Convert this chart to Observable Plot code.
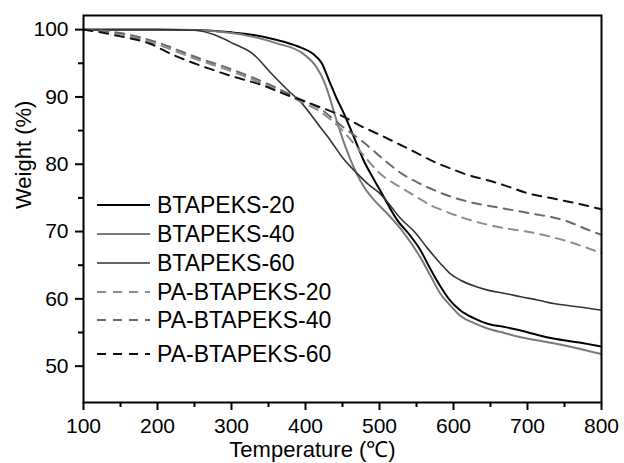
<!DOCTYPE html>
<html><head><meta charset="utf-8">
<script src="https://cdn.jsdelivr.net/npm/d3@7"></script>
<script src="https://cdn.jsdelivr.net/npm/@observablehq/plot@0.6"></script>
<style>
body{margin:0;background:#fff}
#chart{position:relative;width:624px;height:463px}
</style>
</head><body><div id="chart"></div>
<script>
const seriesNames = ["BTAPEKS-20","BTAPEKS-40","BTAPEKS-60","PA-BTAPEKS-20","PA-BTAPEKS-40","PA-BTAPEKS-60"];
const seriesColors = ["#000000","#7a7a7a","#333333","#8c8c8c","#6a6a6a","#111111"];
const seriesDash = [null,null,null,"9,7","9,7","9,7"];
const seriesWidth = [2,2,1.6,2,2,2];

const bt20 = [[100,100],[200,100],[250,99.95],[300,99.6],[330,99.2],[360,98.5],[390,97.5],[410,96.4],[422,95.0],[432,92.4],[442,89.8],[452,87.5],[461,85.2],[470,82.8],[478,80.7],[490,78.2],[501,76.1],[512,73.9],[524,71.7],[540,69.6],[555,67.3],[568,64.6],[582,61.9],[595,59.8],[609,58.3],[628,57.1],[646,56.3],[670,55.8],[691,55.3],[715,54.6],[735,54.1],[770,53.5],[800,52.9]];
const bt40 = [[100,100],[200,100],[250,99.95],[300,99.5],[326,99.0],[360,98.0],[397,96.4],[415,94.4],[425,92.3],[433,89.8],[440,87.2],[447,84.8],[461,80.6],[478,76.8],[495,74.4],[511,72.6],[530,70.2],[555,66.2],[570,63.2],[582,60.8],[596,59.0],[609,57.5],[628,56.4],[646,55.6],[670,54.9],[691,54.3],[715,53.8],[735,53.4],[770,52.6],[800,51.8]];
const bt60 = [[100,100],[200,100],[250,99.9],[275,99.3],[303,97.9],[330,96.3],[352,93.7],[379,90.7],[393,89.3],[420,85.5],[434,83.5],[450,81.0],[470,78.6],[485,77.0],[501,75.6],[515,73.8],[528,72.0],[547,70.0],[565,67.5],[582,65.3],[595,63.8],[609,62.8],[628,61.9],[646,61.3],[670,60.8],[691,60.3],[715,59.8],[735,59.3],[770,58.8],[800,58.3]];
const pa20 = [[100,100],[150,99.3],[200,97.8],[250,95.7],[300,93.8],[350,91.6],[390,89.5],[420,87.8],[450,85.0],[475,81.8],[501,78.6],[528,76.6],[551,75.1],[569,73.9],[582,73.3],[614,72.0],[659,70.7],[704,69.9],[749,68.7],[800,66.8]];
const pa40 = [[100,100],[150,99.5],[200,98.1],[250,96.0],[300,94.1],[350,91.9],[390,89.8],[420,88.2],[451,85.5],[478,83.3],[510,80.3],[530,78.6],[555,77.1],[591,75.4],[614,74.6],[659,73.6],[704,72.7],[749,71.7],[781,70.3],[800,69.5]];
const pa60 = [[100,100],[123,99.6],[150,99.0],[190,97.9],[220,96.3],[240,95.4],[270,94.2],[303,93.0],[340,91.8],[370,90.5],[400,89.3],[424,88.3],[447,87.3],[478,85.5],[500,84.4],[524,83.1],[550,81.7],[569,80.6],[600,79.2],[614,78.6],[650,77.5],[668,76.9],[700,75.7],[735,74.9],[770,74.1],[800,73.3]];
const seriesData = [bt20, bt40, bt60, pa20, pa40, pa60];

const xMajor = [100,200,300,400,500,600,700,800];
const xMinor = [150,250,350,450,550,650,750];
const yMajor = [50,60,70,80,90,100];
const yMinor = [55,65,75,85,95];

const font = "'Liberation Sans', Arial, Helvetica, sans-serif";

const lineMarks = seriesData.map((pts, i) => Plot.line(pts, {
  x: d => d[0], y: d => d[1],
  stroke: seriesColors[i], strokeWidth: seriesWidth[i],
  strokeDasharray: seriesDash[i] || undefined,
  curve: "monotone-x"
}));

const chart = Plot.plot({
  width: 624, height: 463,
  marginLeft: 83, marginRight: 23, marginTop: 15, marginBottom: 61,
  style: {fontFamily: font, fontSize: "21px", color: "#000", background: "#fff"},
  x: {domain: [100, 800]},
  y: {domain: [44.6, 102.1]},
  marks: [
    ...lineMarks,
    Plot.axisX({ticks: xMajor, tickSize: 8, tickPadding: 8, strokeWidth: 2, fontSize: 21, label: null}),
    Plot.axisX({ticks: xMinor, tickSize: 5, strokeWidth: 2, tickFormat: () => "", label: null}),
    Plot.axisY({ticks: yMajor, tickSize: 8, tickPadding: 7, strokeWidth: 2, fontSize: 21, label: null}),
    Plot.axisY({ticks: yMinor, tickSize: 5, strokeWidth: 2, tickFormat: () => "", label: null}),
    Plot.frame({stroke: "#000", strokeWidth: 2}),
    Plot.text(["Weight (%)"], {frameAnchor: "left", lineAnchor: "middle", rotate: -90, dx: -60, fontSize: 22, text: d => d}),
    Plot.text(["Temperature (℃)"], {frameAnchor: "bottom", lineAnchor: "middle", dy: 47, dx: -30, fontSize: 22, text: d => d})
  ]
});
document.getElementById("chart").appendChild(chart);

// legend
const svg = d3.select(chart);
const legendRows = [205, 234, 263, 292, 320, 354];
const lg = svg.append("g").attr("text-anchor", "start");
seriesNames.forEach((name, i) => {
  lg.append("line").attr("x1", 97).attr("x2", 150).attr("y1", legendRows[i]).attr("y2", legendRows[i])
    .attr("stroke", seriesColors[i]).attr("stroke-width", seriesWidth[i])
    .attr("stroke-dasharray", seriesDash[i] || null);
  lg.append("text").attr("x", 157).attr("y", legendRows[i]).attr("dy", "0.35em")
    .attr("text-anchor", "start")
    .attr("font-size", 23).attr("font-family", font).attr("fill", "#000").text(name);
});
</script>
</body></html>
